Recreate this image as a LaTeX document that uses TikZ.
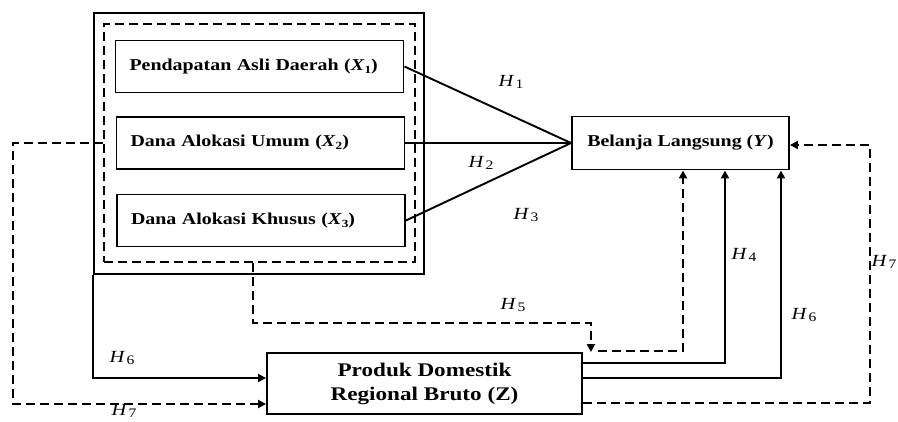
\documentclass[tikz,border=0pt]{standalone}
\usepackage{fontspec}
\setmainfont{Liberation Serif}[FakeStretch=1.2]
\usetikzlibrary{arrows.meta}
\newcommand\mysb[1]{\raisebox{-0.35ex}{\fontsize{11}{11}\selectfont #1}}
\newcommand\hlab[1]{\textit{H}\kern1.5pt\raisebox{-0.3ex}{\fontsize{13}{13}\selectfont #1}}
\begin{document}
\begin{tikzpicture}[x=1pt,y=-1pt,
  ln/.style={line width=1.9pt},
  dsh/.style={line width=1.9pt,dash pattern=on 9pt off 5pt},
  arr/.style={-{Triangle[length=8pt,width=8pt]}},
  xbox/.style={draw,line width=1.9pt,text width=260pt,inner xsep=14pt,minimum height=52pt,align=left,
     font=\fontsize{16.6}{19}\selectfont\bfseries},
  bbox/.style={draw,line width=1.9pt,align=center,font=\fontsize{16.6}{24}\selectfont\bfseries},
  hl/.style={font=\fontsize{17}{17}\selectfont, inner sep=0pt}]
\clip (0,0) rectangle (898,421);
\fill[white] (0,0) rectangle (898,421);
\node[draw,line width=1.9pt,minimum width=330pt,minimum height=261pt] (outer) at (259,143.5) {};
\node[draw,dsh,minimum width=311pt,minimum height=238pt] (dashed) at (259.5,143) {};
\node[xbox] (x1) at (259.5,66.5) {Pendapatan Asli Daerah (\textit{X}\mysb{1})};
\node[xbox] (x2) at (260.5,143) {Dana Alokasi Umum (\textit{X}\mysb{2})};
\node[xbox] (x3) at (261,220.5) {Dana Alokasi Khusus (\textit{X}\mysb{3})};
\node[bbox,minimum width=217pt,minimum height=53pt] (y) at (680.5,143) {Belanja Langsung (\textit{Y})};
\node[bbox,minimum width=315pt,minimum height=61pt,font=\fontsize{19.3}{24}\selectfont\bfseries] (z) at (424.5,383.5) {Produk Domestik\\Regional Bruto (Z)};
% H1-H3
\draw[ln] (x1.east) -- (y.west);
\draw[ln] (x2.east) -- (y.west);
\draw[ln] (x3.east) -- (y.west);
% H6 left
\draw[ln,arr] (outer.south west) |- ([yshift=5.5pt]z.west);
% H7 left
\draw[dsh,arr] (dashed.west) -- ++(-90,0) |- ([yshift=-20.5pt]z.west);
% H5
\draw[dsh,arr] ([xshift=-6.5pt]dashed.south) -- ++(0,60) -| ([xshift=8pt]z.north east);
\draw[dsh,arr] ([xshift=15pt,yshift=1pt]z.north east) -| ([xshift=2.5pt]y.south);
% H4, H6 right
\draw[ln,arr] ([yshift=20.5pt]z.east) -| ([xshift=44.5pt]y.south);
\draw[ln,arr] ([yshift=5.5pt]z.east) -| ([xshift=100.5pt]y.south);
% H7 right
\draw[dsh,arr] ([yshift=-19.5pt]z.east) -| ([xshift=80pt,yshift=-2pt]y.east) -- ([yshift=-2pt]y.east);
% labels
\node[hl] (h1) at (511,82) {\hlab{1}};
\node[hl] (h2) at (481,163) {\hlab{2}};
\node[hl] (h3) at (526,215) {\hlab{3}};
\node[hl] (h4) at (744,255) {\hlab{4}};
\node[hl] (h5) at (513,305) {\hlab{5}};
\node[hl] (h6a) at (122,358) {\hlab{6}};
\node[hl] (h6b) at (804,315) {\hlab{6}};
\node[hl] (h7a) at (124,411) {\hlab{7}};
\node[hl] (h7b) at (884,262) {\hlab{7}};
\end{tikzpicture}
\end{document}
